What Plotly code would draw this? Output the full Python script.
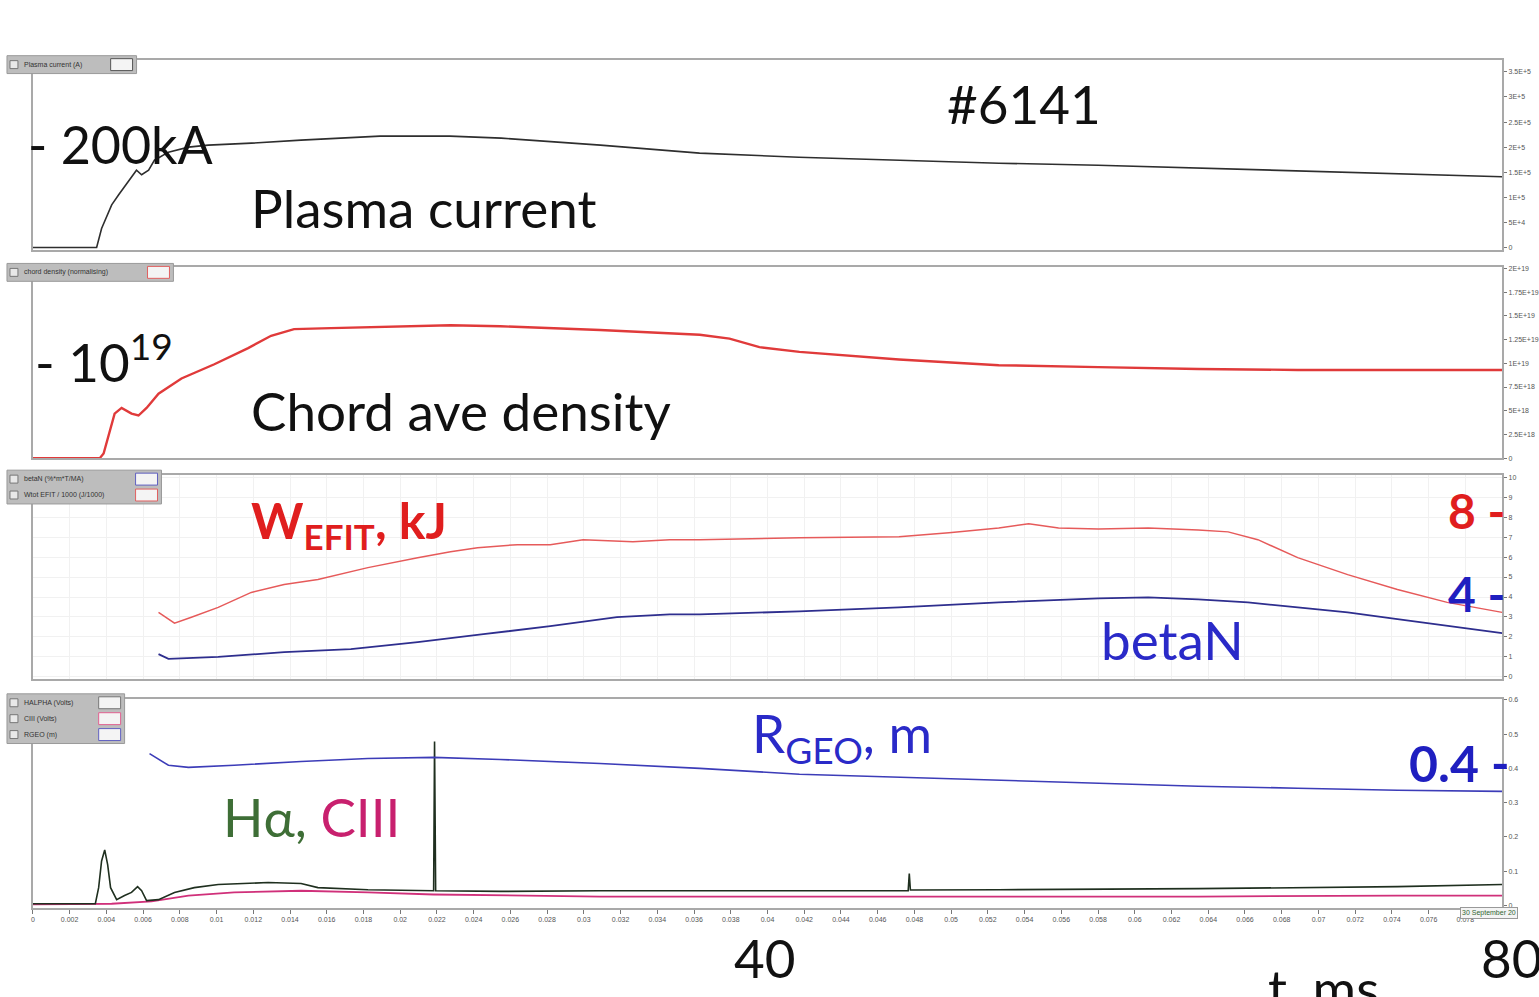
import plotly.graph_objects as go

W, H = 1539, 997

# ---- shot #6141 time traces (time in ms) ----
t_ip = [0, 3.47, 3.74, 4.29, 4.67, 5.21, 5.64, 5.92, 6.30, 6.62, 7.38, 8.47, 9.55, 11.9,
        14.6, 18.9, 22.7, 25.5, 30.9, 36.3, 41.7, 47.2, 52.6, 58.0, 63.4, 68.9, 74.3, 80.0]
ip_ka = [0, 0, 38, 85, 105, 131, 154, 145, 154, 174, 190, 200, 204, 208,
         214, 222, 222, 218, 204, 188, 180, 174, 168, 164, 158, 152, 147, 141]

t_ne = [0, 3.64, 3.85, 4.18, 4.45, 4.83, 5.37, 5.75, 6.19, 6.84, 8.09, 9.88, 11.72, 12.97,
        14.22, 16.23, 20.03, 22.74, 25.45, 30.88, 36.31, 37.93, 39.56, 41.74, 47.16, 52.59,
        58.02, 63.45, 68.87, 80.0]
ne_1e19 = [0, 0, 0.05, 0.29, 0.47, 0.53, 0.47, 0.45, 0.53, 0.68, 0.84, 0.99, 1.16, 1.29,
           1.36, 1.37, 1.39, 1.40, 1.39, 1.35, 1.30, 1.26, 1.17, 1.12, 1.04, 0.98,
           0.96, 0.94, 0.93, 0.93]

t_w = [6.84, 7.71, 8.63, 10.09, 11.89, 13.68, 15.52, 16.61, 18.24, 20.95, 22.74, 24.21,
       26.38, 28.17, 29.96, 32.67, 34.68, 36.31, 41.74, 47.16, 49.88, 52.59, 54.22, 55.85,
       58.02, 60.73, 63.45, 65.08, 66.70, 68.87, 71.59, 74.30, 77.01, 80.0]
w_efit = [3.23, 2.69, 2.99, 3.48, 4.23, 4.63, 4.88, 5.12, 5.47, 5.97, 6.27, 6.47,
          6.62, 6.62, 6.87, 6.77, 6.87, 6.87, 6.97, 7.01, 7.21, 7.46, 7.66, 7.46,
          7.41, 7.46, 7.36, 7.26, 6.87, 5.97, 5.12, 4.38, 3.73, 3.23]

t_bn = [6.84, 7.38, 10.09, 13.68, 17.31, 20.95, 24.53, 28.17, 31.80, 34.68, 36.31, 41.74,
        47.16, 52.59, 58.02, 60.73, 63.45, 66.16, 68.87, 71.59, 74.30, 77.01, 80.0]
beta_n = [1.14, 0.90, 1.00, 1.24, 1.39, 1.74, 2.14, 2.54, 2.99, 3.13, 3.13, 3.28,
          3.48, 3.73, 3.93, 3.98, 3.88, 3.73, 3.48, 3.23, 2.89, 2.54, 2.19]

t_r = [6.35, 7.38, 8.47, 10.96, 14.6, 18.24, 21.82, 25.45, 30.88, 36.31, 41.74, 47.16,
       52.59, 58.02, 63.45, 68.87, 74.30, 80.0]
r_geo = [0.443, 0.409, 0.403, 0.409, 0.420, 0.429, 0.432, 0.426, 0.414, 0.400, 0.383, 0.374,
         0.365, 0.357, 0.348, 0.342, 0.336, 0.333]

t_ha = [0, 3.40, 3.58, 3.74, 3.91, 4.07, 4.23, 4.56, 4.99, 5.37, 5.70, 5.92, 6.19, 6.84,
        7.71, 8.79, 10.09, 12.81, 14.60, 15.52, 18.24, 21.82, 21.87, 21.93, 25.45, 30.88,
        41.74, 47.66, 47.72, 47.78, 52.59, 63.45, 74.30, 80.0]
h_alpha = [0.005, 0.005, 0.052, 0.130, 0.162, 0.119, 0.052, 0.017, 0.029, 0.038, 0.055, 0.043,
           0.014, 0.017, 0.038, 0.052, 0.061, 0.067, 0.064, 0.052, 0.046, 0.043, 0.478, 0.043,
           0.041, 0.043, 0.043, 0.043, 0.093, 0.045, 0.046, 0.049, 0.055, 0.061]

t_c3 = [0, 4.29, 6.46, 8.47, 10.96, 14.6, 18.24, 21.82, 30.88, 41.74, 52.59, 63.45, 74.30, 80.0]
c_iii = [0.003, 0.005, 0.012, 0.029, 0.038, 0.043, 0.038, 0.032, 0.026, 0.026, 0.026, 0.026,
         0.029, 0.029]

# right-hand axis ticks of each panel
ip_ticks = [0, 50, 100, 150, 200, 250, 300, 350]
ip_ticktext = ["0", "5E+4", "1E+5", "1.5E+5", "2E+5", "2.5E+5", "3E+5", "3.5E+5"]
ne_ticks = [0, 0.25, 0.5, 0.75, 1.0, 1.25, 1.5, 1.75, 2.0]
ne_ticktext = ["0", "2.5E+18", "5E+18", "7.5E+18", "1E+19", "1.25E+19", "1.5E+19", "1.75E+19", "2E+19"]
w_ticks = list(range(0, 11))
r_ticks = [0, 0.1, 0.2, 0.3, 0.4, 0.5, 0.6]
t_ticks = list(range(0, 80, 2))
t_ticktext = ["0"] + [("%.3f" % (v / 1000)).rstrip("0") for v in t_ticks[1:]]


def px(x):
    return x / W


def py(y):
    return 1 - y / H


X0, X1 = 31, 1505
panels = [(57, 248), (266, 458), (475, 680), (700, 910)]
yranges = [[-3.96, 374.3], [0, 2.01], [-0.1, 10.1], [-0.006, 0.603]]

fig = go.Figure()

fig.add_trace(go.Scatter(x=t_ip, y=ip_ka, mode="lines", line=dict(color="#2e2e2e", width=1.6),
                         xaxis="x", yaxis="y"))
fig.add_trace(go.Scatter(x=t_ne, y=ne_1e19, mode="lines", line=dict(color="#e03a3a", width=2.4),
                         xaxis="x2", yaxis="y2"))
fig.add_trace(go.Scatter(x=t_w, y=w_efit, mode="lines", line=dict(color="#e65a5a", width=1.5),
                         xaxis="x3", yaxis="y3"))
fig.add_trace(go.Scatter(x=t_bn, y=beta_n, mode="lines", line=dict(color="#2e2e8e", width=1.8),
                         xaxis="x3", yaxis="y3"))
fig.add_trace(go.Scatter(x=t_c3, y=c_iii, mode="lines", line=dict(color="#d0307a", width=1.8),
                         xaxis="x4", yaxis="y4"))
fig.add_trace(go.Scatter(x=t_ha, y=h_alpha, mode="lines", line=dict(color="#1f2f1f", width=1.6),
                         xaxis="x4", yaxis="y4"))
fig.add_trace(go.Scatter(x=t_r, y=r_geo, mode="lines", line=dict(color="#3c3cb8", width=1.6),
                         xaxis="x4", yaxis="y4"))

tickfont = dict(family="Liberation Sans", size=7, color="#555555")
line_col = "#a9a9a9"

layout = dict(
    width=W, height=H, margin=dict(l=0, r=0, t=0, b=0),
    paper_bgcolor="white", plot_bgcolor="white", showlegend=False,
)
yticks = [(ip_ticks, ip_ticktext), (ne_ticks, ne_ticktext),
          (w_ticks, [str(v) for v in w_ticks]), (r_ticks, ["0", "0.1", "0.2", "0.3", "0.4", "0.5", "0.6"])]
for i, (top, bot) in enumerate(panels):
    sfx = "" if i == 0 else str(i + 1)
    grid = (i == 2)
    layout["xaxis" + sfx] = dict(
        domain=[px(X0), px(X1)], range=[0, 80], anchor="y" + sfx,
        showline=True, mirror=True, linecolor=line_col, linewidth=2,
        showgrid=grid, gridcolor="#f1f1f1", zeroline=False,
        tickvals=t_ticks, ticktext=t_ticktext,
        showticklabels=(i == 3), ticks="outside" if i == 3 else "",
        ticklen=4, tickcolor="#777777", tickfont=tickfont,
    )
    tv, tt = yticks[i]
    layout["yaxis" + sfx] = dict(
        domain=[py(bot), py(top)], range=yranges[i], anchor="x" + sfx, side="right",
        showline=True, mirror=True, linecolor=line_col, linewidth=2,
        showgrid=grid, gridcolor="#f1f1f1", zeroline=False,
        tickvals=tv, ticktext=tt, ticks="outside", ticklen=3, tickcolor="#777777",
        tickfont=tickfont,
    )
fig.update_layout(**layout)

shapes = []
annotations = []


def label(x, y, text, size=53, color="#111111", xanchor="left", bold=False):
    annotations.append(dict(
        x=px(x), y=py(y), xref="paper", yref="paper", text=("<b>%s</b>" % text) if bold else text,
        showarrow=False, xanchor=xanchor, yanchor="middle",
        font=dict(family="Lato", size=size, color=color),
    ))


# channel selector boxes in the top-left corner of each panel
def selector(x0, y0, rows, width):
    h = 16
    shapes.append(dict(type="rect", xref="paper", yref="paper",
                       x0=px(x0), x1=px(x0 + width), y0=py(y0 + h * len(rows) + 2), y1=py(y0),
                       fillcolor="#bdbdbd", line=dict(color="#9a9a9a", width=1)))
    for k, (name, col) in enumerate(rows):
        yc = y0 + 1 + h * k + h / 2
        shapes.append(dict(type="rect", xref="paper", yref="paper",
                           x0=px(x0 + 3), x1=px(x0 + 11), y0=py(yc + 4), y1=py(yc - 4),
                           fillcolor="#e8e8e8", line=dict(color="#777777", width=1)))
        shapes.append(dict(type="rect", xref="paper", yref="paper",
                           x0=px(x0 + width - 26), x1=px(x0 + width - 4), y0=py(yc + 6), y1=py(yc - 6),
                           fillcolor="#f4f4f4", line=dict(color=col, width=1)))
        annotations.append(dict(x=px(x0 + 15), y=py(yc), xref="paper", yref="paper", text=name,
                                showarrow=False, xanchor="left", yanchor="middle",
                                font=dict(family="Liberation Sans", size=7, color="#333333")))


selector(5, 53, [("Plasma current (A)", "#555555")], 130)
selector(5, 262, [("chord density (normalising)", "#e06060")], 167)
selector(5, 470, [("betaN (%*m*T/MA)", "#6060c0"), ("Wtot EFIT / 1000 (J/1000)", "#e06060")], 155)
selector(5, 695, [("HALPHA (Volts)", "#777777"), ("CIII (Volts)", "#e06090"), ("RGEO (m)", "#6060c0")], 118)

# date stamp at the bottom right
annotations.append(dict(x=px(1463), y=py(916), xref="paper", yref="paper", text="30 September 20",
                        showarrow=False, xanchor="left", yanchor="middle", bgcolor="#f4f4f4",
                        bordercolor="#999999", borderwidth=1,
                        font=dict(family="Liberation Sans", size=7, color="#336633")))

# panel captions
label(1025, 101, "#6141", xanchor="center")
label(24, 142, "- 200kA", size=52)
label(248, 206, "Plasma current")
label(31, 357, "- 10<sup>19</sup>")
label(248, 524, "W<sub>EFIT</sub>, kJ", color="#e01e1e", bold=True, size=50)
label(248, 410, "Chord ave density")
label(1510, 511, "8 -", color="#e01e1e", bold=True, size=48, xanchor="right")
label(1510, 594, "4 -", color="#1f1fc0", bold=True, size=48, xanchor="right")
label(1101, 640, "betaN", color="#2a2ac8")
label(750, 738, "R<sub>GEO</sub>, m", color="#2a2ac8")
label(1515, 765, "0.4 -", color="#1f1fc0", bold=True, size=50, xanchor="right")
label(220, 818, "<span style='color:#3e6e36'>H\u03b1, </span><span style='color:#c8206e'>CIII</span>")
label(765, 960, "40", xanchor="center")
label(1482, 960, "80")
label(1268, 990, "t, ms")

fig.update_layout(shapes=shapes, annotations=annotations)
fig.write_html("out.html")
